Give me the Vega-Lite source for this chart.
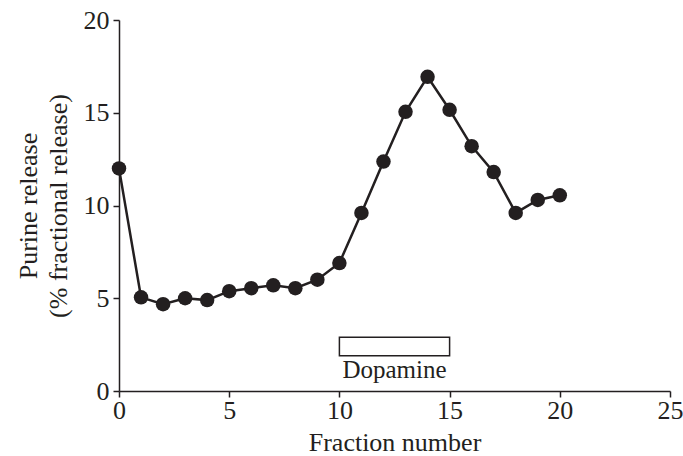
{
  "$schema": "https://vega.github.io/schema/vega-lite/v6.json",
  "width": 551,
  "height": 371,
  "autosize": {"type": "none"},
  "padding": {"left": 119, "top": 20, "right": 13, "bottom": 65},
  "background": "white",
  "config": {
    "view": {"stroke": null},
    "font": "Liberation Serif",
    "axis": {
      "labelFont": "Liberation Serif",
      "titleFont": "Liberation Serif",
      "labelFontSize": 26,
      "titleFontSize": 26,
      "titleFontWeight": "normal",
      "labelColor": "#231f20",
      "titleColor": "#231f20",
      "domainColor": "#231f20",
      "tickColor": "#231f20",
      "domainWidth": 1.5,
      "tickWidth": 1.5,
      "grid": false
    }
  },
  "datasets": {
    "release": [
      {"fraction": 0, "release": 12.0},
      {"fraction": 1, "release": 5.05},
      {"fraction": 2, "release": 4.68},
      {"fraction": 3, "release": 5.0},
      {"fraction": 4, "release": 4.9},
      {"fraction": 5, "release": 5.38},
      {"fraction": 6, "release": 5.54},
      {"fraction": 7, "release": 5.7},
      {"fraction": 8, "release": 5.54},
      {"fraction": 9, "release": 6.0},
      {"fraction": 10, "release": 6.9},
      {"fraction": 11, "release": 9.6},
      {"fraction": 12, "release": 12.37},
      {"fraction": 13, "release": 15.05},
      {"fraction": 14, "release": 16.94},
      {"fraction": 15, "release": 15.16},
      {"fraction": 16, "release": 13.2},
      {"fraction": 17, "release": 11.8},
      {"fraction": 18, "release": 9.6},
      {"fraction": 19, "release": 10.3},
      {"fraction": 20, "release": 10.55}
    ],
    "bar": [
      {"start": 10, "end": 15, "low": 1.9, "high": 2.9, "label": "Dopamine", "mid": 12.5, "ty": 1.15}
    ]
  },
  "layer": [
    {
      "data": {"name": "bar"},
      "mark": {"type": "rect", "fill": "white", "stroke": "#231f20", "strokeWidth": 1.5},
      "encoding": {
        "x": {"field": "start", "type": "quantitative", "scale": {"domain": [0, 25], "nice": false}},
        "x2": {"field": "end"},
        "y": {"field": "low", "type": "quantitative", "scale": {"domain": [0, 20], "nice": false}},
        "y2": {"field": "high"}
      }
    },
    {
      "data": {"name": "bar"},
      "mark": {"type": "text", "font": "Liberation Serif", "fontSize": 25, "color": "#231f20", "baseline": "middle", "align": "center"},
      "encoding": {
        "x": {"field": "mid", "type": "quantitative"},
        "y": {"field": "ty", "type": "quantitative"},
        "text": {"field": "label"}
      }
    },
    {
      "data": {"name": "release"},
      "mark": {"type": "line", "color": "#231f20", "strokeWidth": 2.5},
      "encoding": {
        "x": {"field": "fraction", "type": "quantitative", "scale": {"domain": [0, 25], "nice": false},
          "axis": {"title": "Fraction number", "values": [0, 5, 10, 15, 20, 25], "tickSize": 6, "labelPadding": 0, "titlePadding": 6, "labelFlush": false}},
        "y": {"field": "release", "type": "quantitative", "scale": {"domain": [0, 20], "nice": false},
          "axis": {"title": ["Purine release", "(% fractional release)"], "values": [0, 5, 10, 15, 20], "tickSize": 6, "labelPadding": 4, "titlePadding": 12, "titleLineHeight": 30, "labelFlush": false}}
      }
    },
    {
      "data": {"name": "release"},
      "mark": {"type": "point", "filled": true, "color": "#231f20", "size": 210, "opacity": 1},
      "encoding": {
        "x": {"field": "fraction", "type": "quantitative"},
        "y": {"field": "release", "type": "quantitative"}
      }
    }
  ]
}
